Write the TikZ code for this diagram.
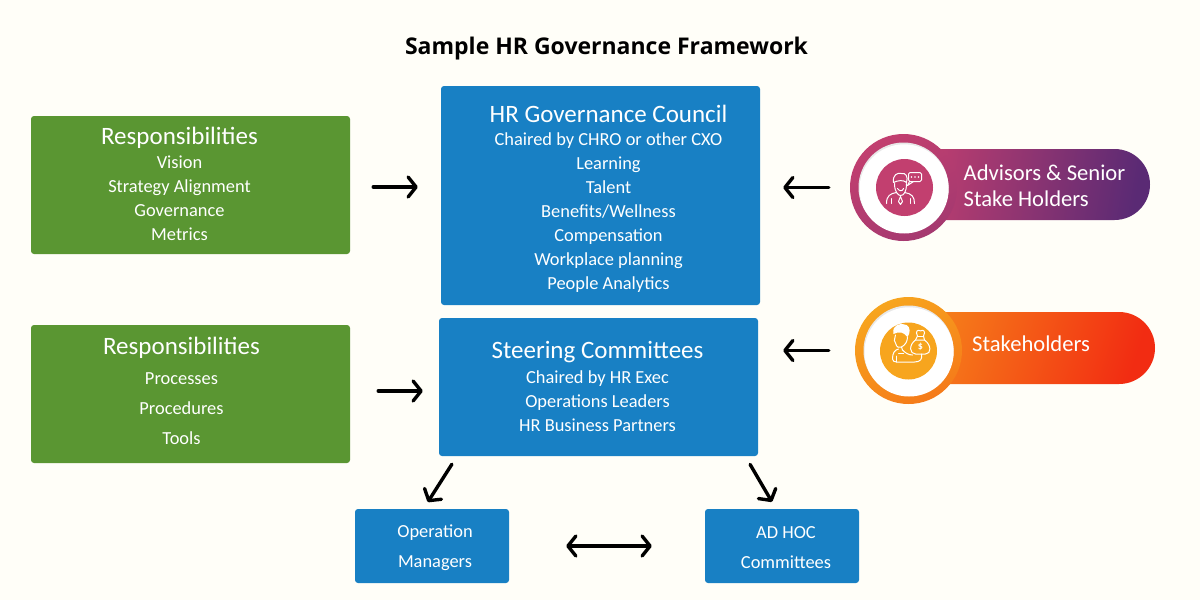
\documentclass[tikz,border=0pt]{standalone}
\usepackage{fontspec}
\setmainfont{Carlito}
\newfontfamily\titlefont{Open Sans}
\usetikzlibrary{arrows.meta,calc}
\definecolor{paper}{HTML}{FFFEF8}
\definecolor{leaf}{HTML}{5A9632}
\definecolor{azure}{HTML}{1880C4}
\definecolor{rose}{HTML}{C23F6F}
\definecolor{plum}{HTML}{5A2A74}
\definecolor{amber}{HTML}{F7A51E}
\definecolor{flame}{HTML}{F22C12}
\tikzset{
  x=1pt,y=-1pt,
  panel/.style={rounded corners=3pt,inner sep=0pt,text=white},
  greenpanel/.style={panel,fill=leaf,minimum width=319pt,minimum height=138pt},
  bluepanel/.style={panel,fill=azure},
  head/.style={text=white,font=\fontsize{25}{26}\selectfont,inner sep=0pt},
  body/.style={text=white,font=\fontsize{18.4}{24}\selectfont,align=center,inner sep=0pt},
  wide/.style={font=\fontsize{18.4}{30}\selectfont},
  pilltext/.style={text=white,font=\fontsize{22.6}{26}\selectfont,align=left,inner sep=0pt,anchor=west},
  link/.style={line width=3.4pt,line cap=round,color=black,
    arrows={-Straight Barb[length=8pt,width=20pt,line cap=round,line join=round]}},
  twoway/.style={link,arrows={Straight Barb[length=8pt,width=20pt,line cap=round,line join=round]-Straight Barb[length=8pt,width=20pt,line cap=round,line join=round]}},
  ring/.style={circle,inner sep=0pt,minimum size=107pt},
  icon/.style={draw=white,line width=1pt,line cap=round,line join=round}
}
\begin{document}
\begin{tikzpicture}
\fill[paper] (0,0) rectangle (1200,600);
\useasboundingbox (0,0) rectangle (1200,600);

\node[font=\titlefont\bfseries\fontsize{23}{28}\selectfont,inner sep=0pt] (title) at (606.5,48.5) {Sample HR Governance Framework};

% green responsibility panels
\node[greenpanel] (respA) at (190.5,185) {};
\node[greenpanel] (respB) at (190.5,394) {};
\node[head] (respAhead) at (179.5,137.5) {Responsibilities};
\node[body] (respAbody) at (179.5,198) {Vision\\Strategy Alignment\\Governance\\Metrics};
\node[head] (respBhead) at (181.5,347.5) {Responsibilities};
\node[body,wide] (respBbody) at (181.5,409) {Processes\\Procedures\\Tools};

% blue governance panels
\node[bluepanel,minimum width=319pt,minimum height=219pt] (council) at (600.5,195.5) {};
\node[head] (councilhead) at (608.5,114) {HR Governance Council};
\node[body] (councilbody) at (608.5,212.5) {Chaired by CHRO or other CXO\\Learning\\Talent\\Benefits/Wellness\\Compensation\\Workplace planning\\People Analytics};
\node[bluepanel,minimum width=319pt,minimum height=138pt] (steering) at (598.5,387) {};
\node[head] (steeringhead) at (597.5,352) {Steering Committees};
\node[body] (steeringbody) at (597.5,401) {Chaired by HR Exec\\Operations Leaders\\HR Business Partners};
\node[bluepanel,minimum width=154pt,minimum height=74pt] (ops) at (432,546) {};
\node[body,wide] (opstext) at (435,548) {Operation\\Managers};
\node[bluepanel,minimum width=154pt,minimum height=74pt] (adhoc) at (782,546) {};
\node[body,wide] (adhoctext) at (786,548) {AD HOC\\Committees};

% advisors badge
\node[rounded corners=35.5pt,minimum width=247pt,minimum height=71pt,inner sep=0pt,left color=rose,right color=plum,shading angle=80] (pillA) at (1026.5,184.5) {};
\node[ring,left color=rose,right color=rose!72!plum,shading angle=30] (ringA) at (903.5,187.5) {};
\fill[black!9] (ringA.center) circle (45);
\fill[white] ($(ringA.center)+(0.6,1.4)$) circle (44.6);
\node[circle,fill=rose,minimum size=57pt,inner sep=0pt] (discA) at (904.5,187.5) {};
\node[pilltext] (pillAtext) at (963.5,185.5) {Advisors \& Senior\\[-0.5pt]Stake Holders};

% stakeholders badge
\node[rounded corners=36pt,minimum width=247pt,minimum height=72pt,inner sep=0pt,left color=amber!70!flame,right color=flame,shading angle=72] (pillB) at (1031.5,348) {};
\node[ring,left color=amber,right color=amber!65!flame,shading angle=30] (ringB) at (908.5,350.5) {};
\fill[black!9] (ringB.center) circle (45);
\fill[white] ($(ringB.center)+(0.6,1.4)$) circle (44.6);
\node[circle,fill=amber,minimum size=57pt,inner sep=0pt] (discB) at (908.5,351) {};
\node[pilltext] (pillBtext) at (972,344) {Stakeholders};

% person with speech bubble
\begin{scope}[shift={(discA.center)},icon]
  \draw (-10,-4) .. controls (-10,5) and (-6,8) .. (-4,8) .. controls (-1,8) and (2,5) .. (2,-4);
  \draw (-11,-5) .. controls (-12,-13) and (-7,-15) .. (-3,-14) .. controls (1,-15) and (4,-11) .. (2,-5)
        .. controls (-1,-8) and (-7,-7) .. (-11,-5) -- cycle;
  \draw (-7,1) .. controls (-5,4) and (-2,4) .. (-1,1);
  \draw (-18,16) .. controls (-18,8) and (-14,6) .. (-8,5);
  \draw (0,5) .. controls (7,6) and (10,9) .. (10,16);
  \draw (-13,16) -- (-13,11);
  \draw (6,16) -- (6,11);
  \draw (-4,9) -- (-6,14) -- (-4,17) -- (-2,14) -- cycle;
  \draw[rounded corners=1.5pt] (4,-15) rectangle (17,-6);
  \draw (5,-6) -- (3,-2) -- (9,-6);
  \fill[white] (7,-10.5) circle (0.8) (10.5,-10.5) circle (0.8) (14,-10.5) circle (0.8);
\end{scope}

% person holding a money bag
\begin{scope}[shift={(discB.center)},icon]
  \fill[white] (-15,-17) .. controls (-17,-26) and (-8,-29) .. (-2,-26) .. controls (2,-24) and (2,-18) .. (-1,-14)
        .. controls (-5,-19) and (-9,-20) .. (-15,-17) -- cycle;
  \draw (-13,-16) .. controls (-14,-11) and (-15,-9) .. (-13,-8) .. controls (-12,-3) and (-9,-3) .. (-7,-4)
        .. controls (-3,-6) and (-1,-10) .. (-1,-14);
  \draw (-7,-4) -- (-6,-1);
  \draw (-10,-2) .. controls (-14,-1) and (-16,2) .. (-16,8) .. controls (-16,10) and (-14,11) .. (-12,11) -- (6,11)
        .. controls (12,11) and (14,8) .. (13,3);
  \draw (-12,5) -- (-12,11);
  \draw (-6,-1) .. controls (-3,2) and (0,4) .. (4,4);
  \draw (-10,2) -- (-5,2);
  \draw (7,-11) .. controls (0,-6) and (1,3) .. (7,3) -- (17,3) .. controls (23,3) and (23,-6) .. (16,-11) -- cycle;
  \draw (7,-11) -- (9,-15) .. controls (6,-20) and (10,-22) .. (12,-20) .. controls (14,-22) and (18,-20) .. (15,-15) -- (16,-11);
  \draw (9,-15) -- (15,-15);
  \node[text=white,font=\bfseries\fontsize{10}{10}\selectfont,inner sep=0pt] (dollar) at (12,-4) {\$};
\end{scope}

% connectors between the bodies
\draw[link,shorten <=23pt,shorten >=23pt] ([yshift=-2pt]respA.east) -- ([yshift=-2pt]council.west |- respA.east);
\draw[link,shorten <=28pt,shorten >=16pt] ([yshift=3pt]respB.east) -- ([yshift=3pt]steering.west |- respB.east);
\draw[link,shorten <=21pt,shorten >=23pt] (ringA.west) -- (council.east |- ringA.west);
\draw[link,shorten <=26pt,shorten >=25pt] (ringB.west) -- (steering.east |- ringB.west);
\draw[link,shorten <=9.5pt,shorten >=8pt] ([xshift=-141.5pt]steering.south) -- ([xshift=-8.5pt]ops.north);
\draw[link,shorten <=9.5pt,shorten >=8pt] ([xshift=146.8pt]steering.south) -- ([xshift=-6pt]adhoc.north);
\draw[twoway,shorten <=57pt,shorten >=53pt] (ops.east) -- (adhoc.west);
\end{tikzpicture}
\end{document}
